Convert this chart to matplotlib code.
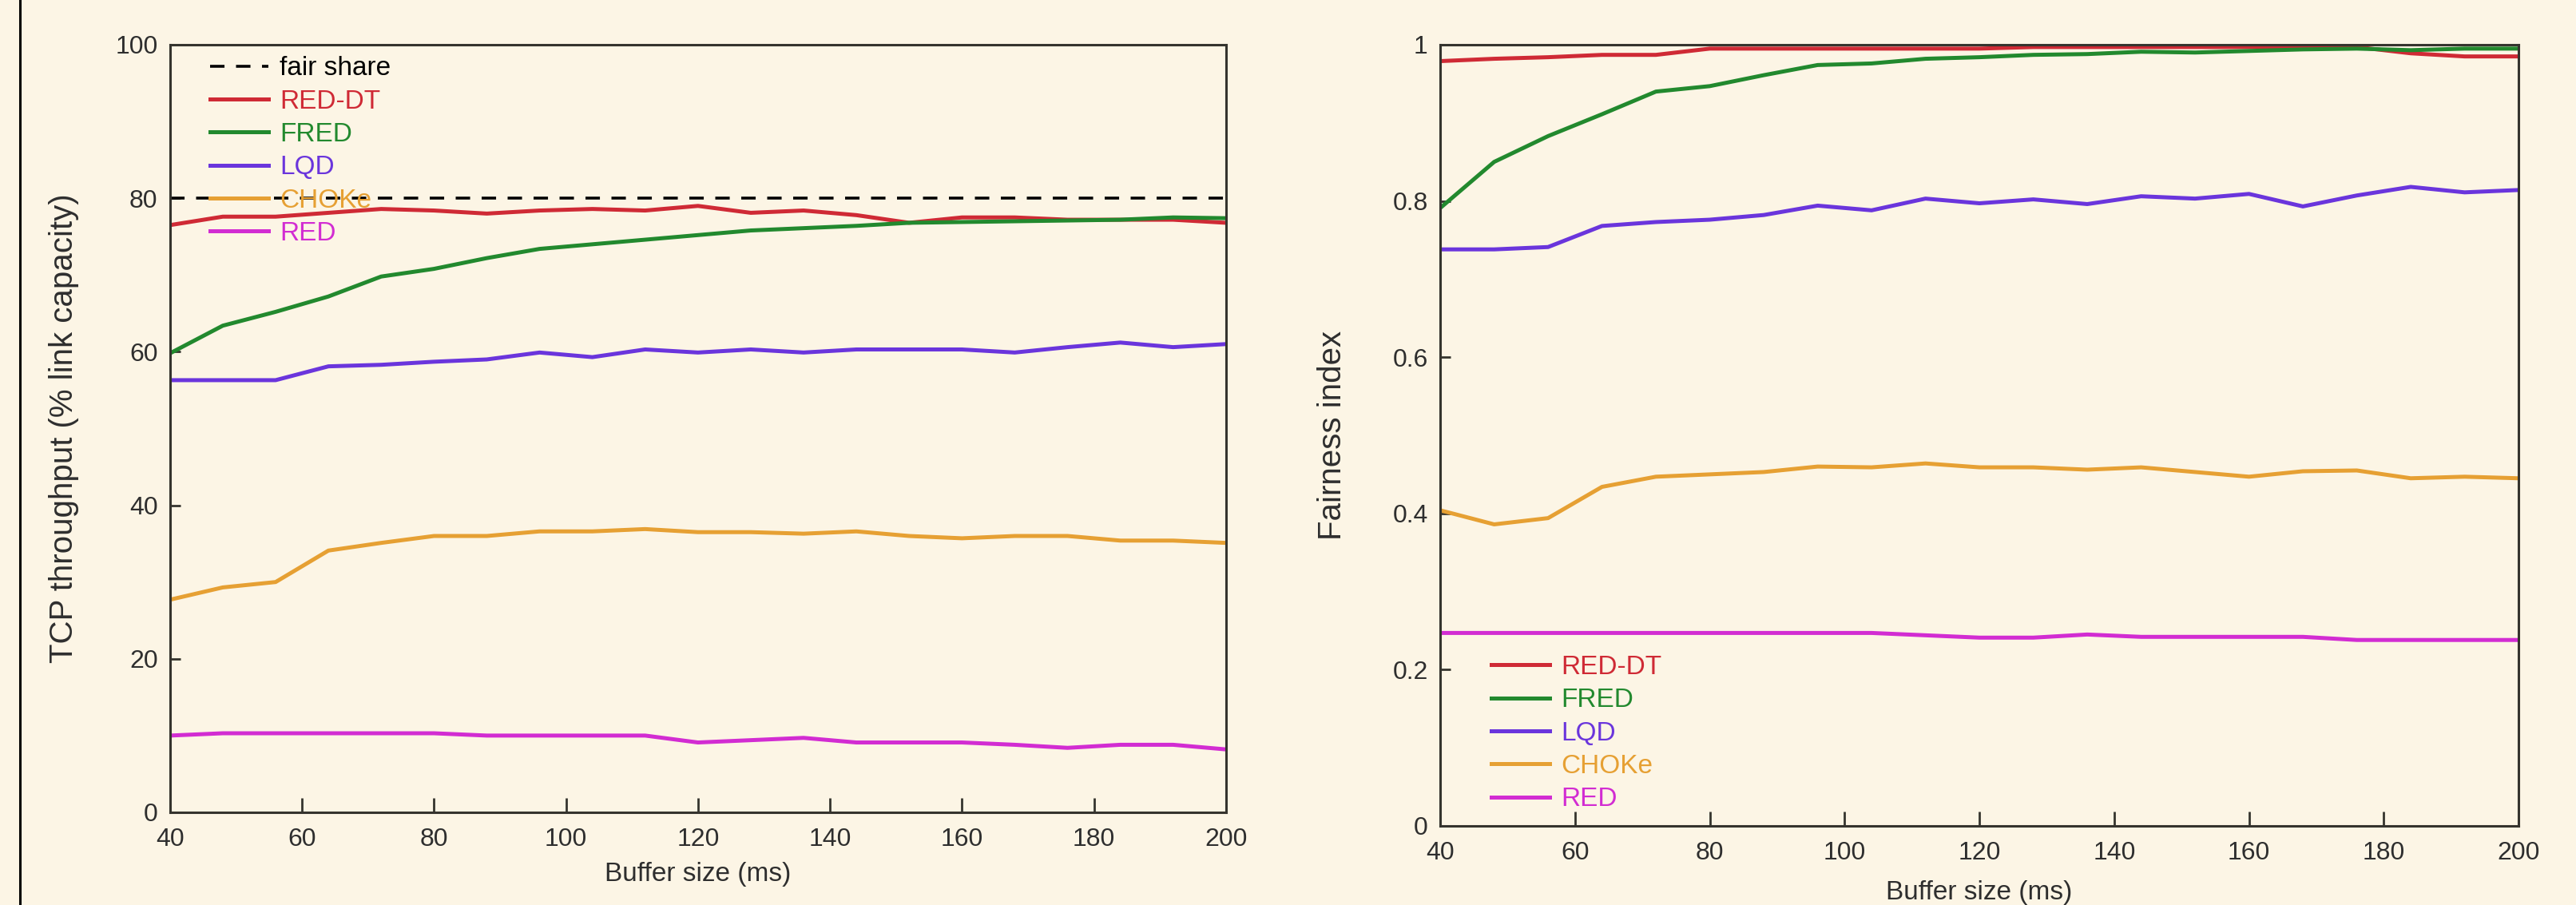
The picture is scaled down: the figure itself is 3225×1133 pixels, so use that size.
import matplotlib
matplotlib.use('Agg')
import matplotlib.pyplot as plt
from matplotlib.lines import Line2D

# ---- data ----
buffer_ms = [40, 48, 56, 64, 72, 80, 88, 96, 104, 112, 120,
             128, 136, 144, 152, 160, 168, 176, 184, 192, 200]

fair_share = 80

# TCP throughput (% link capacity)
thr_red_dt = [76.5, 77.6, 77.6, 78.1, 78.6, 78.4, 78.0, 78.4, 78.6, 78.4, 79.0,
              78.1, 78.4, 77.8, 76.8, 77.5, 77.5, 77.2, 77.2, 77.2, 76.8]
thr_fred = [59.8, 63.4, 65.2, 67.2, 69.8, 70.8, 72.2, 73.4, 74.0, 74.6, 75.2,
            75.8, 76.1, 76.4, 76.8, 76.9, 77.0, 77.1, 77.2, 77.5, 77.4]
thr_lqd = [56.3, 56.3, 56.3, 58.1, 58.3, 58.7, 59.0, 59.9, 59.3, 60.3, 59.9,
           60.3, 59.9, 60.3, 60.3, 60.3, 59.9, 60.6, 61.2, 60.6, 61.0]
thr_choke = [27.7, 29.3, 30.0, 34.1, 35.1, 36.0, 36.0, 36.6, 36.6, 36.9, 36.5,
             36.5, 36.3, 36.6, 36.0, 35.7, 36.0, 36.0, 35.4, 35.4, 35.1]
thr_red = [10.0, 10.3, 10.3, 10.3, 10.3, 10.3, 10.0, 10.0, 10.0, 10.0, 9.1,
           9.4, 9.7, 9.1, 9.1, 9.1, 8.8, 8.4, 8.8, 8.8, 8.2]

# Fairness index
fi_red_dt = [0.979, 0.982, 0.984, 0.987, 0.987, 0.995, 0.995, 0.995, 0.995, 0.995, 0.995,
             0.997, 0.997, 0.997, 0.997, 0.997, 0.997, 0.997, 0.989, 0.985, 0.985]
fi_fred = [0.791, 0.850, 0.883, 0.911, 0.940, 0.947, 0.961, 0.974, 0.976, 0.982, 0.984,
           0.987, 0.988, 0.991, 0.990, 0.992, 0.994, 0.995, 0.993, 0.995, 0.995]
fi_lqd = [0.738, 0.738, 0.741, 0.768, 0.773, 0.776, 0.782, 0.794, 0.788, 0.803, 0.797,
          0.802, 0.796, 0.806, 0.803, 0.809, 0.793, 0.807, 0.818, 0.811, 0.814]
fi_choke = [0.404, 0.386, 0.394, 0.434, 0.447, 0.450, 0.453, 0.460, 0.459, 0.464, 0.459,
            0.459, 0.456, 0.459, 0.453, 0.447, 0.454, 0.455, 0.445, 0.447, 0.445]
fi_red = [0.247, 0.247, 0.247, 0.247, 0.247, 0.247, 0.247, 0.247, 0.247, 0.244, 0.241,
          0.241, 0.245, 0.242, 0.242, 0.242, 0.242, 0.238, 0.238, 0.238, 0.238]

x_ticks = [40, 60, 80, 100, 120, 140, 160, 180, 200]
thr_ticks = [0, 20, 40, 60, 80, 100]
fi_ticks = [0, 0.2, 0.4, 0.6, 0.8, 1.0]
fi_tick_labels = ['0', '0.2', '0.4', '0.6', '0.8', '1']

# ---- style ----
BG = '#fcf5e5'
INK = '#35342e'
TXT = '#2e2e2e'
colors = {
    'RED-DT': '#cf2a35',
    'FRED': '#22892e',
    'LQD': '#6a35dc',
    'CHOKe': '#e6a033',
    'RED': '#d22cd2',
}
LW = 3.6
FS_TICK = 23
FS_LEG = 24
FS_XLAB = 24
FS_YLAB = 29

plt.rcParams['font.family'] = ['Liberation Sans', 'DejaVu Sans']
plt.rcParams['font.size'] = FS_TICK

fig = plt.figure(figsize=(32.25, 11.33), dpi=100, facecolor=BG)
ax1 = fig.add_axes([0.0660, 0.1024, 0.4099, 0.8482], facecolor=BG)
ax2 = fig.add_axes([0.5591, 0.0874, 0.4186, 0.8632], facecolor=BG)

# left frame line of the picture
fig.add_artist(Line2D([25 / 3225, 25 / 3225], [0, 1], transform=fig.transFigure,
                      color='black', lw=2.2))


def style_axes(ax):
    for s in ax.spines.values():
        s.set_linewidth(2.2)
        s.set_color(INK)
    ax.tick_params(axis='x', direction='in', length=13, width=2, color=INK,
                   labelsize=FS_TICK, labelcolor=TXT, pad=14, top=False)
    ax.tick_params(axis='y', direction='in', length=9, width=2, color=INK,
                   labelsize=FS_TICK, labelcolor=TXT, pad=11, right=False)


leg_kw = dict(frameon=False, fontsize=FS_LEG, handlelength=2.2,
              handletextpad=0.42, labelspacing=0.31, borderpad=0,
              borderaxespad=0, labelcolor='linecolor')

# ---- left: throughput ----
ax1.plot(buffer_ms, [fair_share] * len(buffer_ms), color='black', lw=2.6,
         dashes=(5, 4), label='fair share')
ax1.plot(buffer_ms, thr_red_dt, color=colors['RED-DT'], lw=LW, label='RED-DT')
ax1.plot(buffer_ms, thr_fred, color=colors['FRED'], lw=LW, label='FRED')
ax1.plot(buffer_ms, thr_lqd, color=colors['LQD'], lw=LW, label='LQD')
ax1.plot(buffer_ms, thr_choke, color=colors['CHOKe'], lw=LW, label='CHOKe')
ax1.plot(buffer_ms, thr_red, color=colors['RED'], lw=LW, label='RED')
ax1.set_xlim(40, 200)
ax1.set_ylim(0, 100)
ax1.set_xticks(x_ticks)
ax1.set_yticks(thr_ticks)
style_axes(ax1)
ax1.set_xlabel('Buffer size (ms)', fontsize=FS_XLAB, color=TXT)
ax1.set_ylabel('TCP throughput (% link capacity)', fontsize=FS_YLAB, color=TXT)
ax1.xaxis.set_label_coords(0.5, -0.065)
ax1.yaxis.set_label_coords(-0.086, 0.5)
ax1.legend(loc='upper left', bbox_to_anchor=(0.038, 0.985), **leg_kw)

# ---- right: fairness index ----
ax2.plot(buffer_ms, fi_red_dt, color=colors['RED-DT'], lw=LW, label='RED-DT')
ax2.plot(buffer_ms, fi_fred, color=colors['FRED'], lw=LW, label='FRED')
ax2.plot(buffer_ms, fi_lqd, color=colors['LQD'], lw=LW, label='LQD')
ax2.plot(buffer_ms, fi_choke, color=colors['CHOKe'], lw=LW, label='CHOKe')
ax2.plot(buffer_ms, fi_red, color=colors['RED'], lw=LW, label='RED')
ax2.set_xlim(40, 200)
ax2.set_ylim(0, 1)
ax2.set_xticks(x_ticks)
ax2.set_yticks(fi_ticks)
ax2.set_yticklabels(fi_tick_labels)
style_axes(ax2)
ax2.set_xlabel('Buffer size (ms)', fontsize=FS_XLAB, color=TXT)
ax2.set_ylabel('Fairness index', fontsize=FS_YLAB, color=TXT)
ax2.xaxis.set_label_coords(0.5, -0.07)
ax2.yaxis.set_label_coords(-0.086, 0.5)
ax2.legend(loc='lower left', bbox_to_anchor=(0.047, 0.018), **leg_kw)

fig.savefig('out.png', dpi=100, facecolor=BG)
